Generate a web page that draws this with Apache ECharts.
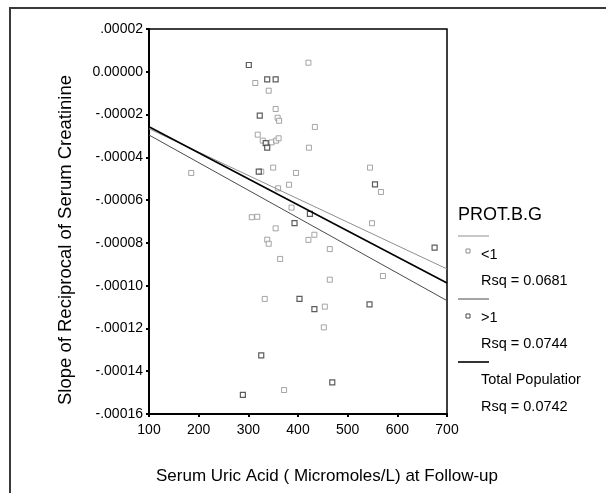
<!DOCTYPE html>
<html>
<head>
<meta charset="utf-8">
<script src="https://cdn.jsdelivr.net/npm/echarts@6/dist/echarts.min.js"></script>
<style>
html,body{margin:0;padding:0;background:#fff;}
#chart{width:606px;height:493px;}
</style>
</head>
<body>
<div id="chart"></div>
<script>
// PROT.B.G < 1 (light squares)
var xLow = [314, 341, 355, 359, 362, 319, 329, 347, 356, 361, 185, 326, 350, 396, 382, 360, 387, 307, 318, 421, 434, 422, 545, 567, 549, 433, 421, 464, 571, 464, 454, 452, 355, 338, 341, 364, 333, 372];
var yLow = [-0.00000525, -0.00000885, -0.0000174, -0.0000215, -0.0000229, -0.0000294, -0.0000322, -0.000033, -0.0000322, -0.0000311, -0.0000473, -0.0000467, -0.0000448, -0.0000473, -0.0000528, -0.0000545, -0.0000635, -0.000068, -0.0000678, 0.00000424, -0.0000258, -0.0000355, -0.0000448, -0.0000562, -0.0000708, -0.0000762, -0.0000786, -0.0000829, -0.0000955, -0.0000972, -0.0001098, -0.0001195, -0.0000732, -0.0000785, -0.0000804, -0.0000875, -0.0001062, -0.0001488];
// PROT.B.G > 1 (dark squares)
var xHigh = [301, 338, 355, 323, 335, 338, 321, 555, 424, 393, 675, 403, 433, 544, 326, 289, 469];
var yHigh = [0.00000317, -0.00000352, -0.00000352, -0.0000205, -0.0000334, -0.0000355, -0.0000467, -0.0000526, -0.0000664, -0.0000708, -0.0000822, -0.0001062, -0.000111, -0.0001087, -0.0001326, -0.0001511, -0.0001452];
// linear fit lines (endpoints at axis range)
var fitX = [100, 700];
var fitLow = [-0.00002661, -0.0000922];
var fitHigh = [-0.00002956, -0.000107];
var fitTotal = [-0.00002568, -0.00009875];
var xTicks = [100, 200, 300, 400, 500, 600, 700];
var xTitle = 'Serum Uric Acid ( Micromoles/L) at Follow-up';
var yTitle = 'Slope of Reciprocal of Serum Creatinine';
var legendTitle = 'PROT.B.G';
var groupNames = ['<1', '>1', 'Total Populatior'];
var rsqLabels = ['Rsq = 0.0681', 'Rsq = 0.0744', 'Rsq = 0.0742'];

function zip(a, b) { return a.map(function (v, i) { return [v, b[i]]; }); }
function fmtY(v) {
  var n = Math.round(v * 1e5);
  if (n === 0) return '0.00000';
  var s = (Math.abs(n) / 1e5).toFixed(5).replace(/^0/, '');
  return (n < 0 ? '-' : '') + s;
}

var FONT = '"Liberation Sans", Arial, Helvetica, sans-serif';
var LIGHT = '#8f8f8f', DARK = '#4a4a4a';
var chart = echarts.init(document.getElementById('chart'), null, {renderer: 'canvas'});

var lx = 458, mx = 468, tx = 481;
function legendLine(y, color, w) {
  return {type: 'line', shape: {x1: lx, y1: y, x2: lx + 31, y2: y}, style: {stroke: color, lineWidth: w}};
}
function legendMarker(y, color) {
  return {type: 'rect', shape: {x: mx - 2, y: y - 2, width: 4, height: 4}, style: {fill: '#fff', stroke: color, lineWidth: 1}};
}
function legendText(x, y, txt, size) {
  return {type: 'text', x: x, y: y, style: {text: txt, font: size + 'px ' + FONT, fill: '#000', textVerticalAlign: 'middle', verticalAlign: 'middle'}};
}

chart.setOption({
  animation: false,
  backgroundColor: '#fff',
  grid: {left: 149, top: 29, right: 159, bottom: 79, show: true, borderColor: '#000', borderWidth: 1.5, containLabel: false},
  xAxis: {
    type: 'value', min: 100, max: 700, interval: 100,
    axisLine: {show: true, onZero: false, lineStyle: {color: '#000', width: 2}},
    axisTick: {show: true, length: 3, lineStyle: {color: '#000', width: 2}},
    splitLine: {show: false},
    axisLabel: {color: '#000', fontSize: 14, fontFamily: FONT, margin: 9,
      formatter: function (v) { return xTicks.indexOf(v) >= 0 ? String(v) : ''; }}
  },
  yAxis: {
    type: 'value', min: -0.00016, max: 0.00002, interval: 0.00002,
    axisLine: {show: true, onZero: false, lineStyle: {color: '#000', width: 2}},
    axisTick: {show: true, length: 3, lineStyle: {color: '#000', width: 2}},
    splitLine: {show: false},
    axisLabel: {color: '#000', fontSize: 14, fontFamily: FONT, margin: 6, formatter: fmtY}
  },
  series: [
    {type: 'scatter', name: '<1', data: zip(xLow, yLow), symbol: 'rect', symbolSize: 5,
     itemStyle: {color: '#fff', borderColor: LIGHT, borderWidth: 1}, z: 3},
    {type: 'scatter', name: '>1', data: zip(xHigh, yHigh), symbol: 'rect', symbolSize: 5,
     itemStyle: {color: '#fff', borderColor: '#333', borderWidth: 1.2}, z: 3},
    {type: 'line', data: zip(fitX, fitLow), showSymbol: false, symbol: 'none',
     lineStyle: {color: LIGHT, width: 1}, z: 4},
    {type: 'line', data: zip(fitX, fitHigh), showSymbol: false, symbol: 'none',
     lineStyle: {color: DARK, width: 1}, z: 4},
    {type: 'line', data: zip(fitX, fitTotal), showSymbol: false, symbol: 'none',
     lineStyle: {color: '#000', width: 1.6}, z: 5}
  ],
  graphic: [
    {type: 'rect', shape: {x: 10, y: 8, width: 640, height: 520}, style: {fill: 'none', stroke: '#3a3a3a', lineWidth: 2}, silent: true},
    {type: 'text', x: 327, y: 476, style: {text: xTitle, font: '17px ' + FONT, fill: '#000', textAlign: 'center', align: 'center', textVerticalAlign: 'middle', verticalAlign: 'middle'}},
    {type: 'text', x: 66, y: 240, rotation: Math.PI / 2, style: {text: yTitle, font: '18.5px ' + FONT, fill: '#000', textAlign: 'center', align: 'center', textVerticalAlign: 'middle', verticalAlign: 'middle'}},
    legendText(lx, 215, legendTitle, 18),
    legendLine(236, LIGHT, 1),
    legendMarker(251, LIGHT),
    legendText(tx, 255, groupNames[0], 14.5),
    legendText(tx, 281, rsqLabels[0], 14.5),
    legendLine(299, DARK, 1),
    legendMarker(316, DARK),
    legendText(tx, 318, groupNames[1], 14.5),
    legendText(tx, 344, rsqLabels[1], 14.5),
    legendLine(362, '#000', 1.6),
    legendText(tx, 380, groupNames[2], 14.5),
    legendText(tx, 407, rsqLabels[2], 14.5)
  ]
});
</script>
</body>
</html>
